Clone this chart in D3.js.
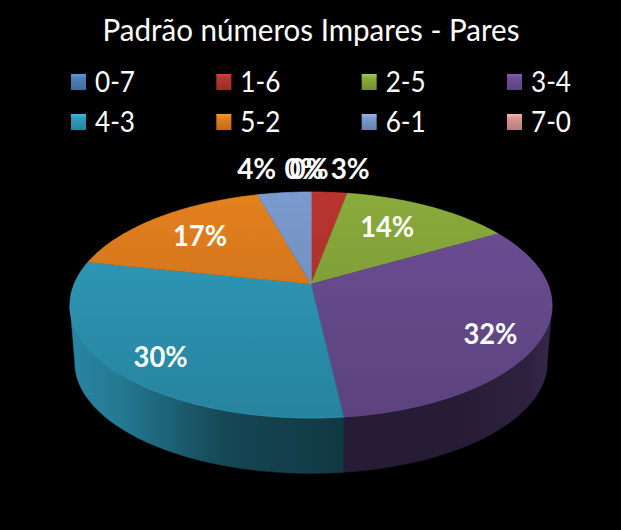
<!DOCTYPE html>
<html>
<head>
<meta charset="utf-8">
<script src="https://cdn.jsdelivr.net/npm/d3@7"></script>
<style>
 html, body { margin: 0; padding: 0; background: #000; }
 svg { display: block; }
 text { font-family: Lato, "Open Sans", sans-serif; fill: #fff; }
</style>
</head>
<body>
<div id="chart"></div>
<script>
var categories = ["0-7", "1-6", "2-5", "3-4", "4-3", "5-2", "6-1", "7-0"];
var values = [0, 2.9, 13.7, 31.6, 30.1, 17.4, 4.3, 0];
var percentLabels = ["0%", "3%", "14%", "32%", "30%", "17%", "4%", "0%"];
var colors = ["#4f81bd", "#b9352f", "#8aab3c", "#6d4f96", "#2f9dbd", "#e4801f", "#7b9bce", "#d99694"];

var width = 621, height = 530;

var svg = d3.select("#chart").append("svg")
    .attr("width", width)
    .attr("height", height);

svg.append("rect").attr("width", width).attr("height", height).attr("fill", "#000");

// perspective of the pie disc, angle measured clockwise from the top
var centerX = 311, centerY = 284, radiusX = 236.8, radiusY = 109.1, tilt = 0.186;
var wallDepth = 58, wallScale = 0.98;

function project(angle, r, depth) {
    var s = depth ? wallScale : 1;
    var px = r * Math.sin(angle), py = -r * Math.cos(angle);
    var d = 1 - tilt * py;
    return [centerX + s * radiusX * px / d, centerY + (depth || 0) + s * radiusY * py / d];
}

var slices = d3.pie().sort(null).value(function(d) { return d; })(values);
var line = d3.line();

function rimBetween(a0, a1, depth) {
    var n = Math.max(2, Math.ceil((a1 - a0) * 40));
    return d3.range(n + 1).map(function(i) {
        return project(a0 + (a1 - a0) * i / n, 1, depth);
    });
}

function rim(s, depth) {
    return rimBetween(s.startAngle, s.endAngle, depth);
}

var defs = svg.append("defs");

// top face: vertical gradient, lighter at the back
colors.forEach(function(c, i) {
    var g = defs.append("linearGradient").attr("id", "top" + i)
        .attr("gradientUnits", "userSpaceOnUse")
        .attr("x1", 0).attr("x2", 0).attr("y1", 190).attr("y2", 420);
    g.append("stop").attr("offset", 0).attr("stop-color", c);
    g.append("stop").attr("offset", 1).attr("stop-color", d3.rgb(c).darker(0.5));
});

// wall shading, dark in the middle, lighter at both ends
var wallStops = [[0, 0.85], [0.1, 0.78], [0.32, 0.45], [0.55, 0.36], [0.8, 0.36], [0.95, 0.42], [1, 0.5]];
colors.forEach(function(c, i) {
    var g = defs.append("linearGradient").attr("id", "wall" + i)
        .attr("gradientUnits", "userSpaceOnUse")
        .attr("x1", 70).attr("x2", 552).attr("y1", 0).attr("y2", 0);
    wallStops.forEach(function(st) {
        var k = d3.rgb(c);
        g.append("stop").attr("offset", st[0])
            .attr("stop-color", d3.rgb(k.r * st[1], k.g * st[1], k.b * st[1]));
    });
});

var visible = slices.map(function(s, i) { return { s: s, i: i }; })
    .filter(function(d) { return d.s.value > 0; });

// only the front of the wall shows, between the two side tangents of the disc
var frontStart = Math.acos(-tilt), frontEnd = 2 * Math.PI - frontStart;
var walls = visible.map(function(d) {
    return { i: d.i, a0: Math.max(d.s.startAngle, frontStart), a1: Math.min(d.s.endAngle, frontEnd) };
}).filter(function(w) { return w.a1 > w.a0; });

svg.append("g").selectAll("path").data(walls).enter().append("path")
    .attr("d", function(w) {
        return line(rimBetween(w.a0, w.a1, 0).concat(rimBetween(w.a0, w.a1, wallDepth).reverse())) + "Z";
    })
    .attr("fill", function(w) { return "url(#wall" + w.i + ")"; })
    .attr("stroke", function(w) { return "url(#wall" + w.i + ")"; })
    .attr("stroke-width", 0.5);

svg.append("g").selectAll("path").data(visible).enter().append("path")
    .attr("d", function(d) {
        return line([[centerX, centerY]].concat(rim(d.s, 0))) + "Z";
    })
    .attr("fill", function(d) { return "url(#top" + d.i + ")"; })
    .attr("stroke", function(d) { return "url(#top" + d.i + ")"; })
    .attr("stroke-width", 0.4);

// thin bright rim along the front edge of the disc
svg.append("g").selectAll("path").data(visible).enter().append("path")
    .attr("d", function(d) { return line(rim(d.s, 0)); })
    .attr("fill", "none")
    .attr("stroke", function(d) { return d3.rgb(colors[d.i]).brighter(0.5); })
    .attr("stroke-opacity", 0.45)
    .attr("stroke-width", 0.8);

// the 6-1 / 7-0 boundary shows as a light sliver at the top
svg.append("path")
    .attr("d", line([[centerX, centerY], project(0, 1)]))
    .attr("stroke", colors[6])
    .attr("stroke-width", 1);

// data labels, placed along each slice's mid angle
var labelRadius = [1.2, 1.2, 0.7, 0.8, 0.78, 0.7, 1.2, 1.2];
var labelDx = [-7, 18, -10, -2, 1, 0, -23, -2];
var labelDy = [-8, -8, -1, 8, 9, 0, -9, -8];

svg.append("g").selectAll("text").data(slices).enter().append("text")
    .attr("x", function(d, i) { return project((d.startAngle + d.endAngle) / 2, labelRadius[i])[0] + labelDx[i]; })
    .attr("y", function(d, i) { return project((d.startAngle + d.endAngle) / 2, labelRadius[i])[1] + labelDy[i]; })
    .attr("dy", ".35em")
    .attr("text-anchor", "middle")
    .attr("font-size", 29)
    .attr("font-weight", 700)
    .attr("textLength", function(d, i) { return 15 * percentLabels[i].length + 9; })
    .attr("lengthAdjust", "spacingAndGlyphs")
    .text(function(d, i) { return percentLabels[i]; });

svg.append("text")
    .attr("x", 311)
    .attr("y", 41)
    .attr("text-anchor", "middle")
    .attr("font-size", 30)
    .attr("textLength", 417)
    .attr("lengthAdjust", "spacingAndGlyphs")
    .text("Padrão números Impares - Pares");

// legend, 4 columns by 2 rows
var legendX = d3.scalePoint().domain([0, 1, 2, 3]).range([71, 507]);
var legendY = d3.scalePoint().domain([0, 1]).range([82, 122]);

colors.forEach(function(c, i) {
    var g = defs.append("linearGradient").attr("id", "swatch" + i)
        .attr("x1", 0).attr("x2", 0).attr("y1", 0).attr("y2", 1);
    g.append("stop").attr("offset", 0).attr("stop-color", d3.rgb(c).brighter(0.5));
    g.append("stop").attr("offset", 0.25).attr("stop-color", c);
    g.append("stop").attr("offset", 1).attr("stop-color", d3.rgb(c).darker(0.5));
});

var legend = svg.append("g").selectAll("g").data(categories).enter().append("g")
    .attr("transform", function(d, i) {
        return "translate(" + legendX(i % 4) + "," + legendY(Math.floor(i / 4)) + ")";
    });

legend.append("rect")
    .attr("x", 0).attr("y", -8).attr("width", 15).attr("height", 16)
    .attr("fill", function(d, i) { return "url(#swatch" + i + ")"; });

legend.append("text")
    .attr("x", 24)
    .attr("dy", ".35em")
    .attr("font-size", 29)
    .attr("textLength", 40)
    .attr("lengthAdjust", "spacingAndGlyphs")
    .text(function(d) { return d; });
</script>
</body>
</html>
